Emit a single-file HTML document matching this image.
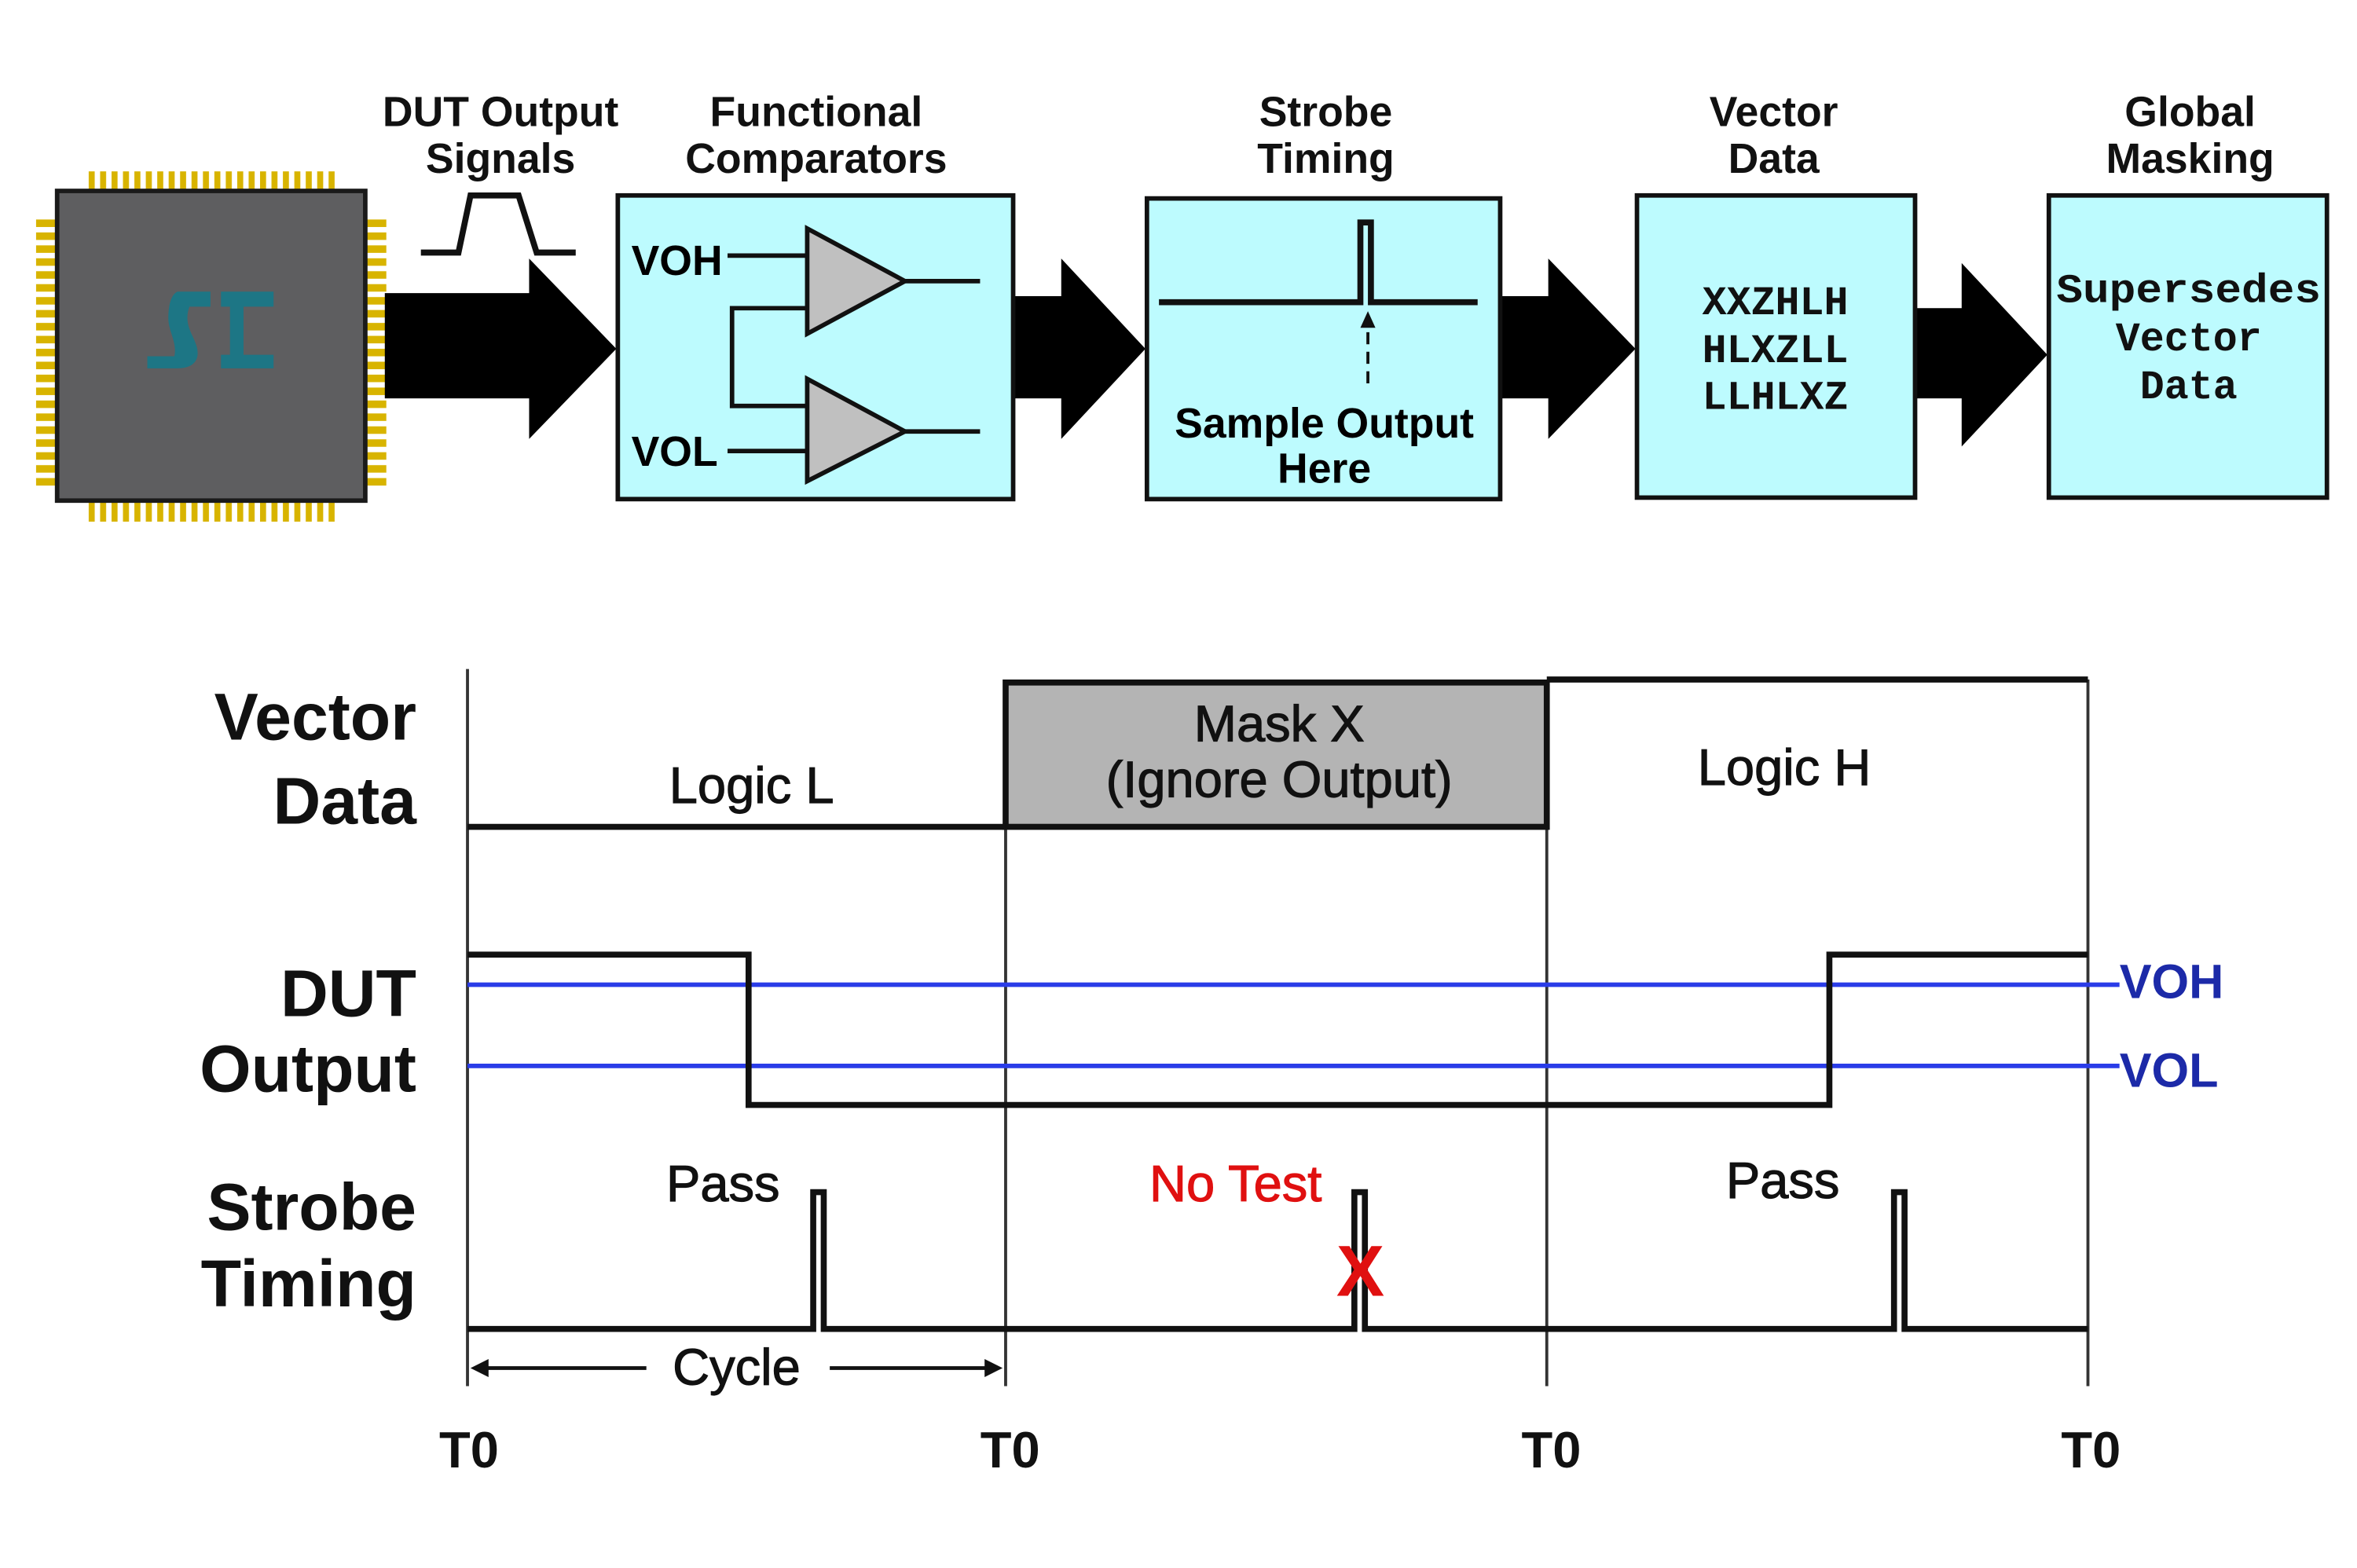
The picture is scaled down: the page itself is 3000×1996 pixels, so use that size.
<!DOCTYPE html>
<html><head><meta charset="utf-8"><style>
html,body{margin:0;padding:0;background:#fff;}
svg{display:block;}
text{font-family:"Liberation Sans",sans-serif;}
text.mono{font-family:"Liberation Mono",monospace;}
</style></head><body>
<svg width="3000" height="1996" viewBox="0 0 1568 1043" preserveAspectRatio="none" xmlns="http://www.w3.org/2000/svg">
<defs>
<pattern id="pv" x="58" y="0" width="7.6" height="20" patternUnits="userSpaceOnUse"><rect x="1" y="0" width="4" height="20" fill="#d8b400"/></pattern>
<pattern id="ph" x="0" y="145" width="20" height="8.6" patternUnits="userSpaceOnUse"><rect x="0" y="1" width="20" height="5" fill="#d8b400"/></pattern>
</defs>
<rect width="1568" height="1043" fill="#fff"/>

<!-- chip -->
<rect x="58" y="114" width="166" height="14" fill="url(#pv)"/>
<rect x="58" y="332" width="166" height="15" fill="url(#pv)"/>
<rect x="24" y="145" width="15" height="180" fill="url(#ph)"/>
<rect x="242" y="145" width="15" height="180" fill="url(#ph)"/>
<rect x="38" y="127" width="205" height="206" fill="#5e5e60" stroke="#1a1a1a" stroke-width="3"/>
<path d="M118,194 H140 V204 H126 C122,215 128,222 130,228 C134,238 130,245 118,245 H98 V237 H116 C118,228 112,220 112,212 C112,202 114,196 118,194 Z" fill="#1d7685"/>
<path d="M147,194 H182 V204 H162 V236 H182 V245 H147 V236 H153 V204 H147 Z" fill="#1d7685"/>

<!-- top labels -->
<g font-size="28" text-anchor="middle" font-weight="bold" fill="#111">
<text x="333" y="84">DUT Output</text><text x="333" y="115">Signals</text>
<text x="543" y="84">Functional</text><text x="543" y="115">Comparators</text>
<text x="882" y="84">Strobe</text><text x="882" y="115">Timing</text>
<text x="1180" y="84">Vector</text><text x="1180" y="115">Data</text>
<text x="1457" y="84">Global</text><text x="1457" y="115">Masking</text>
</g>

<!-- pulse -->
<polyline points="280,168 305,168 313,130 345,130 357,168 383,168" fill="none" stroke="#111" stroke-width="4"/>

<!-- arrows -->
<path d="M256,195 H352 V172 L410,232 L352,292 V265 H256 Z" fill="#000"/>
<path d="M674,197 H706 V172 L762,232 L706,292 V265 H674 Z" fill="#000"/>
<path d="M998,197 H1030 V172 L1088,232 L1030,292 V265 H998 Z" fill="#000"/>
<path d="M1274,205 H1305 V175 L1362,236 L1305,297 V265 H1274 Z" fill="#000"/>

<!-- box1 -->
<rect x="411" y="130" width="263" height="202" fill="#bdfbfe" stroke="#111" stroke-width="3"/>
<text x="420" y="183" font-size="28" font-weight="bold">VOH</text>
<text x="420" y="310" font-size="28" font-weight="bold">VOL</text>
<g stroke="#111" stroke-width="3" fill="none">
<line x1="484" y1="170" x2="537" y2="170"/>
<line x1="484" y1="300" x2="537" y2="300"/>
<polyline points="537,205 487,205 487,270 537,270"/>
<line x1="602" y1="187" x2="652" y2="187"/>
<line x1="602" y1="287" x2="652" y2="287"/>
</g>
<polygon points="537,152 537,222 602,187" fill="#c0c0c0" stroke="#111" stroke-width="3"/>
<polygon points="537,252 537,320 602,287" fill="#c0c0c0" stroke="#111" stroke-width="3"/>

<!-- box2 -->
<rect x="763" y="132" width="235" height="200" fill="#bdfbfe" stroke="#111" stroke-width="3"/>
<polyline points="771,201 905,201 905,148 912,148 912,201 983,201" fill="none" stroke="#111" stroke-width="4"/>
<line x1="910" y1="255" x2="910" y2="214" stroke="#111" stroke-width="2" stroke-dasharray="8,5"/>
<path d="M905,218 L910,207 L915,218 z" fill="#111"/>
<text x="881" y="291" font-size="28" font-weight="bold" text-anchor="middle">Sample Output</text>
<text x="881" y="321" font-size="28" font-weight="bold" text-anchor="middle">Here</text>

<!-- box3 -->
<rect x="1089" y="130" width="185" height="201" fill="#bdfbfe" stroke="#111" stroke-width="3"/>
<g font-size="27" font-weight="bold" text-anchor="middle" fill="#111">
<text class="mono" x="1181" y="209">XXZHLH</text><text class="mono" x="1181" y="241">HLXZLL</text><text class="mono" x="1181" y="272">LLHLXZ</text>
</g>

<!-- box4 -->
<rect x="1363" y="130" width="185" height="201" fill="#bdfbfe" stroke="#111" stroke-width="3"/>
<g font-size="27" font-weight="bold" text-anchor="middle" fill="#111">
<text class="mono" x="1456" y="201" textLength="176" lengthAdjust="spacingAndGlyphs">Supersedes</text><text class="mono" x="1456" y="233">Vector</text><text class="mono" x="1456" y="265">Data</text>
</g>

<!-- timing diagram -->
<g font-size="44" font-weight="bold" text-anchor="end" fill="#111">
<text x="277" y="492">Vector</text><text x="277" y="548">Data</text>
<text x="277" y="676">DUT</text><text x="277" y="726">Output</text>
<text x="277" y="818">Strobe</text><text x="277" y="869">Timing</text>
</g>
<g stroke="#333" stroke-width="2">
<line x1="311" y1="445" x2="311" y2="922"/>
<line x1="669" y1="452" x2="669" y2="922"/>
<line x1="1029" y1="452" x2="1029" y2="922"/>
<line x1="1389" y1="452" x2="1389" y2="922"/>
</g>
<rect x="669" y="454" width="360" height="96" fill="#b4b4b4" stroke="#111" stroke-width="4"/>
<polyline points="311,550 669,550" stroke="#111" stroke-width="4" fill="none"/>
<polyline points="1029,452 1389,452" stroke="#111" stroke-width="4" fill="none"/>
<g font-size="34" text-anchor="middle" fill="#111" stroke="#111" stroke-width="0.6">
<text x="500" y="534">Logic L</text>
<text x="851" y="493">Mask X</text>
<text x="851" y="530">(Ignore Output)</text>
<text x="1187" y="522">Logic H</text>
</g>
<line x1="311" y1="655" x2="1410" y2="655" stroke="#2a3ce8" stroke-width="3"/>
<line x1="311" y1="709" x2="1410" y2="709" stroke="#2a3ce8" stroke-width="3"/>
<polyline points="311,635 498,635 498,735 1217,735 1217,635 1389,635" fill="none" stroke="#111" stroke-width="4"/>
<g font-size="32" font-weight="bold" fill="#1c2aa8">
<text x="1410" y="664">VOH</text><text x="1410" y="723">VOL</text>
</g>
<polyline points="311,884 541,884 541,793 548,793 548,884 901,884 901,793 908,793 908,884 1260,884 1260,793 1267,793 1267,884 1389,884" fill="none" stroke="#111" stroke-width="4"/>
<g font-size="34" text-anchor="middle" stroke-width="0.6">
<text x="481" y="799" fill="#111" stroke="#111">Pass</text>
<text x="822" y="799" fill="#e01010" stroke="#e01010">No Test</text>
<text x="1186" y="797" fill="#111" stroke="#111">Pass</text>
</g>
<text x="905" y="862" font-size="48" font-weight="bold" fill="#e01010" text-anchor="middle">X</text>
<line x1="318" y1="910" x2="430" y2="910" stroke="#111" stroke-width="2.5"/>
<path d="M313,910 L325,904 L325,916 z" fill="#111"/>
<line x1="552" y1="910" x2="660" y2="910" stroke="#111" stroke-width="2.5"/>
<path d="M667,910 L655,904 L655,916 z" fill="#111"/>
<text x="490" y="921" font-size="34" text-anchor="middle" fill="#111" stroke="#111" stroke-width="0.6">Cycle</text>
<g font-size="34" font-weight="bold" text-anchor="middle" fill="#111">
<text x="312" y="976">T0</text><text x="672" y="976">T0</text><text x="1032" y="976">T0</text><text x="1391" y="976">T0</text>
</g>
</svg>
</body></html>
